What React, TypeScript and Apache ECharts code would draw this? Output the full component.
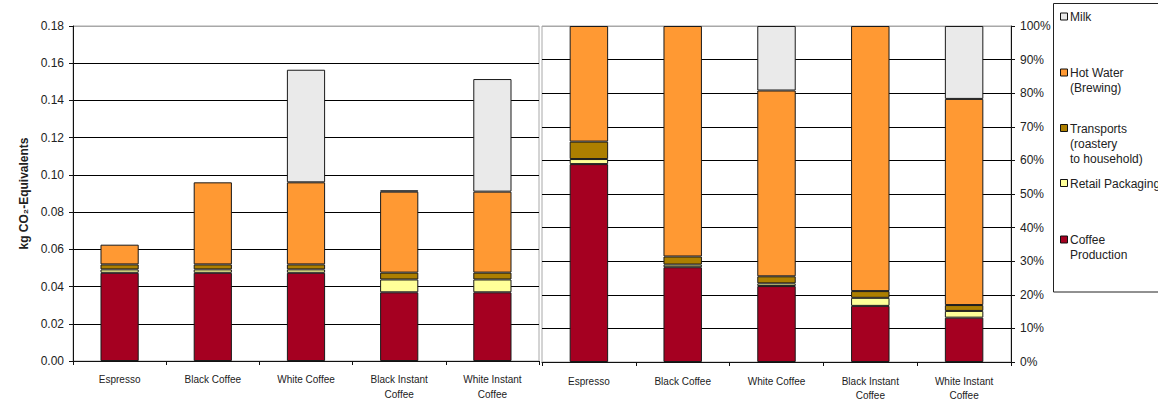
import React, { useEffect, useRef } from "react";
import * as echarts from "echarts";

// Categories shared by both panels
const categories = [
  "Espresso",
  "Black Coffee",
  "White Coffee",
  "Black Instant\nCoffee",
  "White Instant\nCoffee",
];

// Life-cycle stages, stacked bottom to top
const stageNames = [
  "Coffee Production",
  "Retail Packaging",
  "Transports (roastery to household)",
  "Hot Water (Brewing)",
  "Milk",
];
const stageLegendLabels = [
  "Coffee\nProduction",
  "Retail Packaging",
  "Transports\n(roastery\nto household)",
  "Hot Water\n(Brewing)",
  "Milk",
];
const stageColors = ["#A50021", "#FFFF99", "#AD7F00", "#FF9933", "#EAEAEA"];

// Left panel: absolute values, kg CO2-equivalents per cup
const coffeeProductionKg = [0.0474, 0.0474, 0.0474, 0.0369, 0.0369];
const retailPackagingKg = [0.0018, 0.0018, 0.0018, 0.0069, 0.0069];
const transportsKg = [0.0027, 0.0027, 0.0027, 0.0037, 0.0037];
const hotWaterKg = [0.0106, 0.0441, 0.0441, 0.0435, 0.0435];
const milkKg = [0, 0, 0.0605, 0.0007, 0.0605];

// Right panel: share of each stage, %
const coffeeProductionPct = [58.9, 28.2, 22.6, 16.7, 13.2];
const retailPackagingPct = [1.5, 0.8, 0.8, 2.4, 2.0];
const transportsPct = [5.2, 2.4, 2.1, 2.0, 1.75];
const hotWaterPct = [34.4, 68.6, 55.3, 78.9, 61.35];
const milkPct = [0, 0, 19.2, 0, 21.7];

// Axis scales
const kgAxisMin = 0;
const kgAxisMax = 0.18;
const kgAxisStep = 0.02;
const pctAxisMin = 0;
const pctAxisMax = 100;
const pctAxisStep = 10;

const kgData = [coffeeProductionKg, retailPackagingKg, transportsKg, hotWaterKg, milkKg];
const pctData = [coffeeProductionPct, retailPackagingPct, transportsPct, hotWaterPct, milkPct];

// Legend rows: vertical centre of each entry's first line
const legendRowY = [240, 183.5, 128.5, 73, 17];

const FONT = '"Liberation Sans", Arial, "DejaVu Sans", sans-serif';
const INK = "#222";

function gridLineColors(count: number): string[] {
  const c: string[] = [];
  for (let i = 0; i < count; i++) c.push(i === count - 1 ? "#a8a8a8" : "#000");
  return c;
}

export default function App() {
  const ref = useRef<HTMLDivElement>(null);

  useEffect(() => {
    if (!ref.current) return;
    const chart = echarts.init(ref.current, undefined, { renderer: "svg" });

    const nz = (arr: number[]) => arr.map((v) => (v === 0 ? "-" : v));

    const barStyle = (i: number) => ({
      color: stageColors[i],
      borderColor: "#1a1a1a",
      borderWidth: 1,
    });

    const series: any[] = [];
    stageNames.forEach((name, i) => {
      series.push({
        name,
        type: "bar",
        stack: "kg",
        xAxisIndex: 0,
        yAxisIndex: 0,
        barWidth: "41%",
        data: nz(kgData[i]),
        itemStyle: barStyle(i),
      });
    });
    stageNames.forEach((name, i) => {
      series.push({
        name,
        type: "bar",
        stack: "pct",
        xAxisIndex: 1,
        yAxisIndex: 1,
        barWidth: "41%",
        data: nz(pctData[i]),
        itemStyle: barStyle(i),
      });
    });

    const legendGraphics: any[] = [
      {
        type: "rect",
        shape: { x: 1053.5, y: 3.5, width: 200, height: 288.5 },
        style: { fill: "#fff", stroke: "#222", lineWidth: 1 },
        z: 10,
      },
    ];
    stageNames.forEach((_, i) => {
      const y = legendRowY[i];
      legendGraphics.push({
        type: "rect",
        shape: { x: 1060.5, y: y - 4, width: 7, height: 7 },
        style: { fill: stageColors[i], stroke: "#111", lineWidth: 1 },
        z: 11,
      });
      legendGraphics.push({
        type: "text",
        x: 1070,
        y: y - 7.5,
        style: {
          text: stageLegendLabels[i],
          font: `12px ${FONT}`,
          fill: INK,
          lineHeight: 15,
          verticalAlign: "top",
        },
        z: 11,
      });
    });

    const option: any = {
      animation: false,
      backgroundColor: "#fff",
      textStyle: { fontFamily: FONT },
      grid: [
        {
          left: 73,
          top: 26,
          width: 466,
          height: 337,
          show: true,
          borderColor: "#a8a8a8",
          borderWidth: 1,
          backgroundColor: "transparent",
        },
        {
          left: 542,
          top: 26,
          width: 469,
          height: 338,
          show: true,
          borderColor: "#a8a8a8",
          borderWidth: 1,
          backgroundColor: "transparent",
        },
      ],
      xAxis: [0, 1].map((g) => ({
        type: "category",
        gridIndex: g,
        data: categories,
        axisLine: { lineStyle: { color: "#111", width: 1 } },
        axisTick: { show: true, length: 4, lineStyle: { color: "#111" } },
        axisLabel: {
          color: INK,
          fontSize: 10,
          fontFamily: FONT,
          lineHeight: g === 0 ? 15 : 14,
          margin: g === 0 ? 11 : 12,
          interval: 0,
        },
        splitLine: { show: false },
      })),
      yAxis: [
        {
          type: "value",
          gridIndex: 0,
          min: kgAxisMin,
          max: kgAxisMax,
          interval: kgAxisStep,
          name: "kg CO₂-Equivalents",
          nameLocation: "middle",
          nameGap: 43,
          nameRotate: 90,
          nameTextStyle: {
            color: INK,
            fontSize: 12,
            fontWeight: "bold",
            fontFamily: FONT,
          },
          axisLine: { show: true, lineStyle: { color: "#111" } },
          axisTick: { show: true, length: 4, lineStyle: { color: "#111" } },
          axisLabel: {
            color: INK,
            fontSize: 12,
            fontFamily: FONT,
            margin: 9,
            formatter: (v: number) => v.toFixed(2),
          },
          splitLine: {
            show: true,
            lineStyle: {
              color: gridLineColors(Math.round((kgAxisMax - kgAxisMin) / kgAxisStep) + 1),
              width: 1,
            },
          },
        },
        {
          type: "value",
          gridIndex: 1,
          position: "right",
          min: pctAxisMin,
          max: pctAxisMax,
          interval: pctAxisStep,
          axisLine: { show: true, lineStyle: { color: "#111" } },
          axisTick: { show: true, length: 4, lineStyle: { color: "#111" } },
          axisLabel: {
            color: INK,
            fontSize: 12,
            fontFamily: FONT,
            margin: 9,
            formatter: "{value}%",
          },
          splitLine: {
            show: true,
            lineStyle: {
              color: gridLineColors(Math.round((pctAxisMax - pctAxisMin) / pctAxisStep) + 1),
              width: 1,
            },
          },
        },
      ],
      series,
      graphic: legendGraphics,
    };

    chart.setOption(option);
    return () => chart.dispose();
  }, []);

  return (
    <div
      ref={ref}
      style={{ position: "absolute", left: 0, top: 0, width: 1158, height: 402 }}
    />
  );
}
